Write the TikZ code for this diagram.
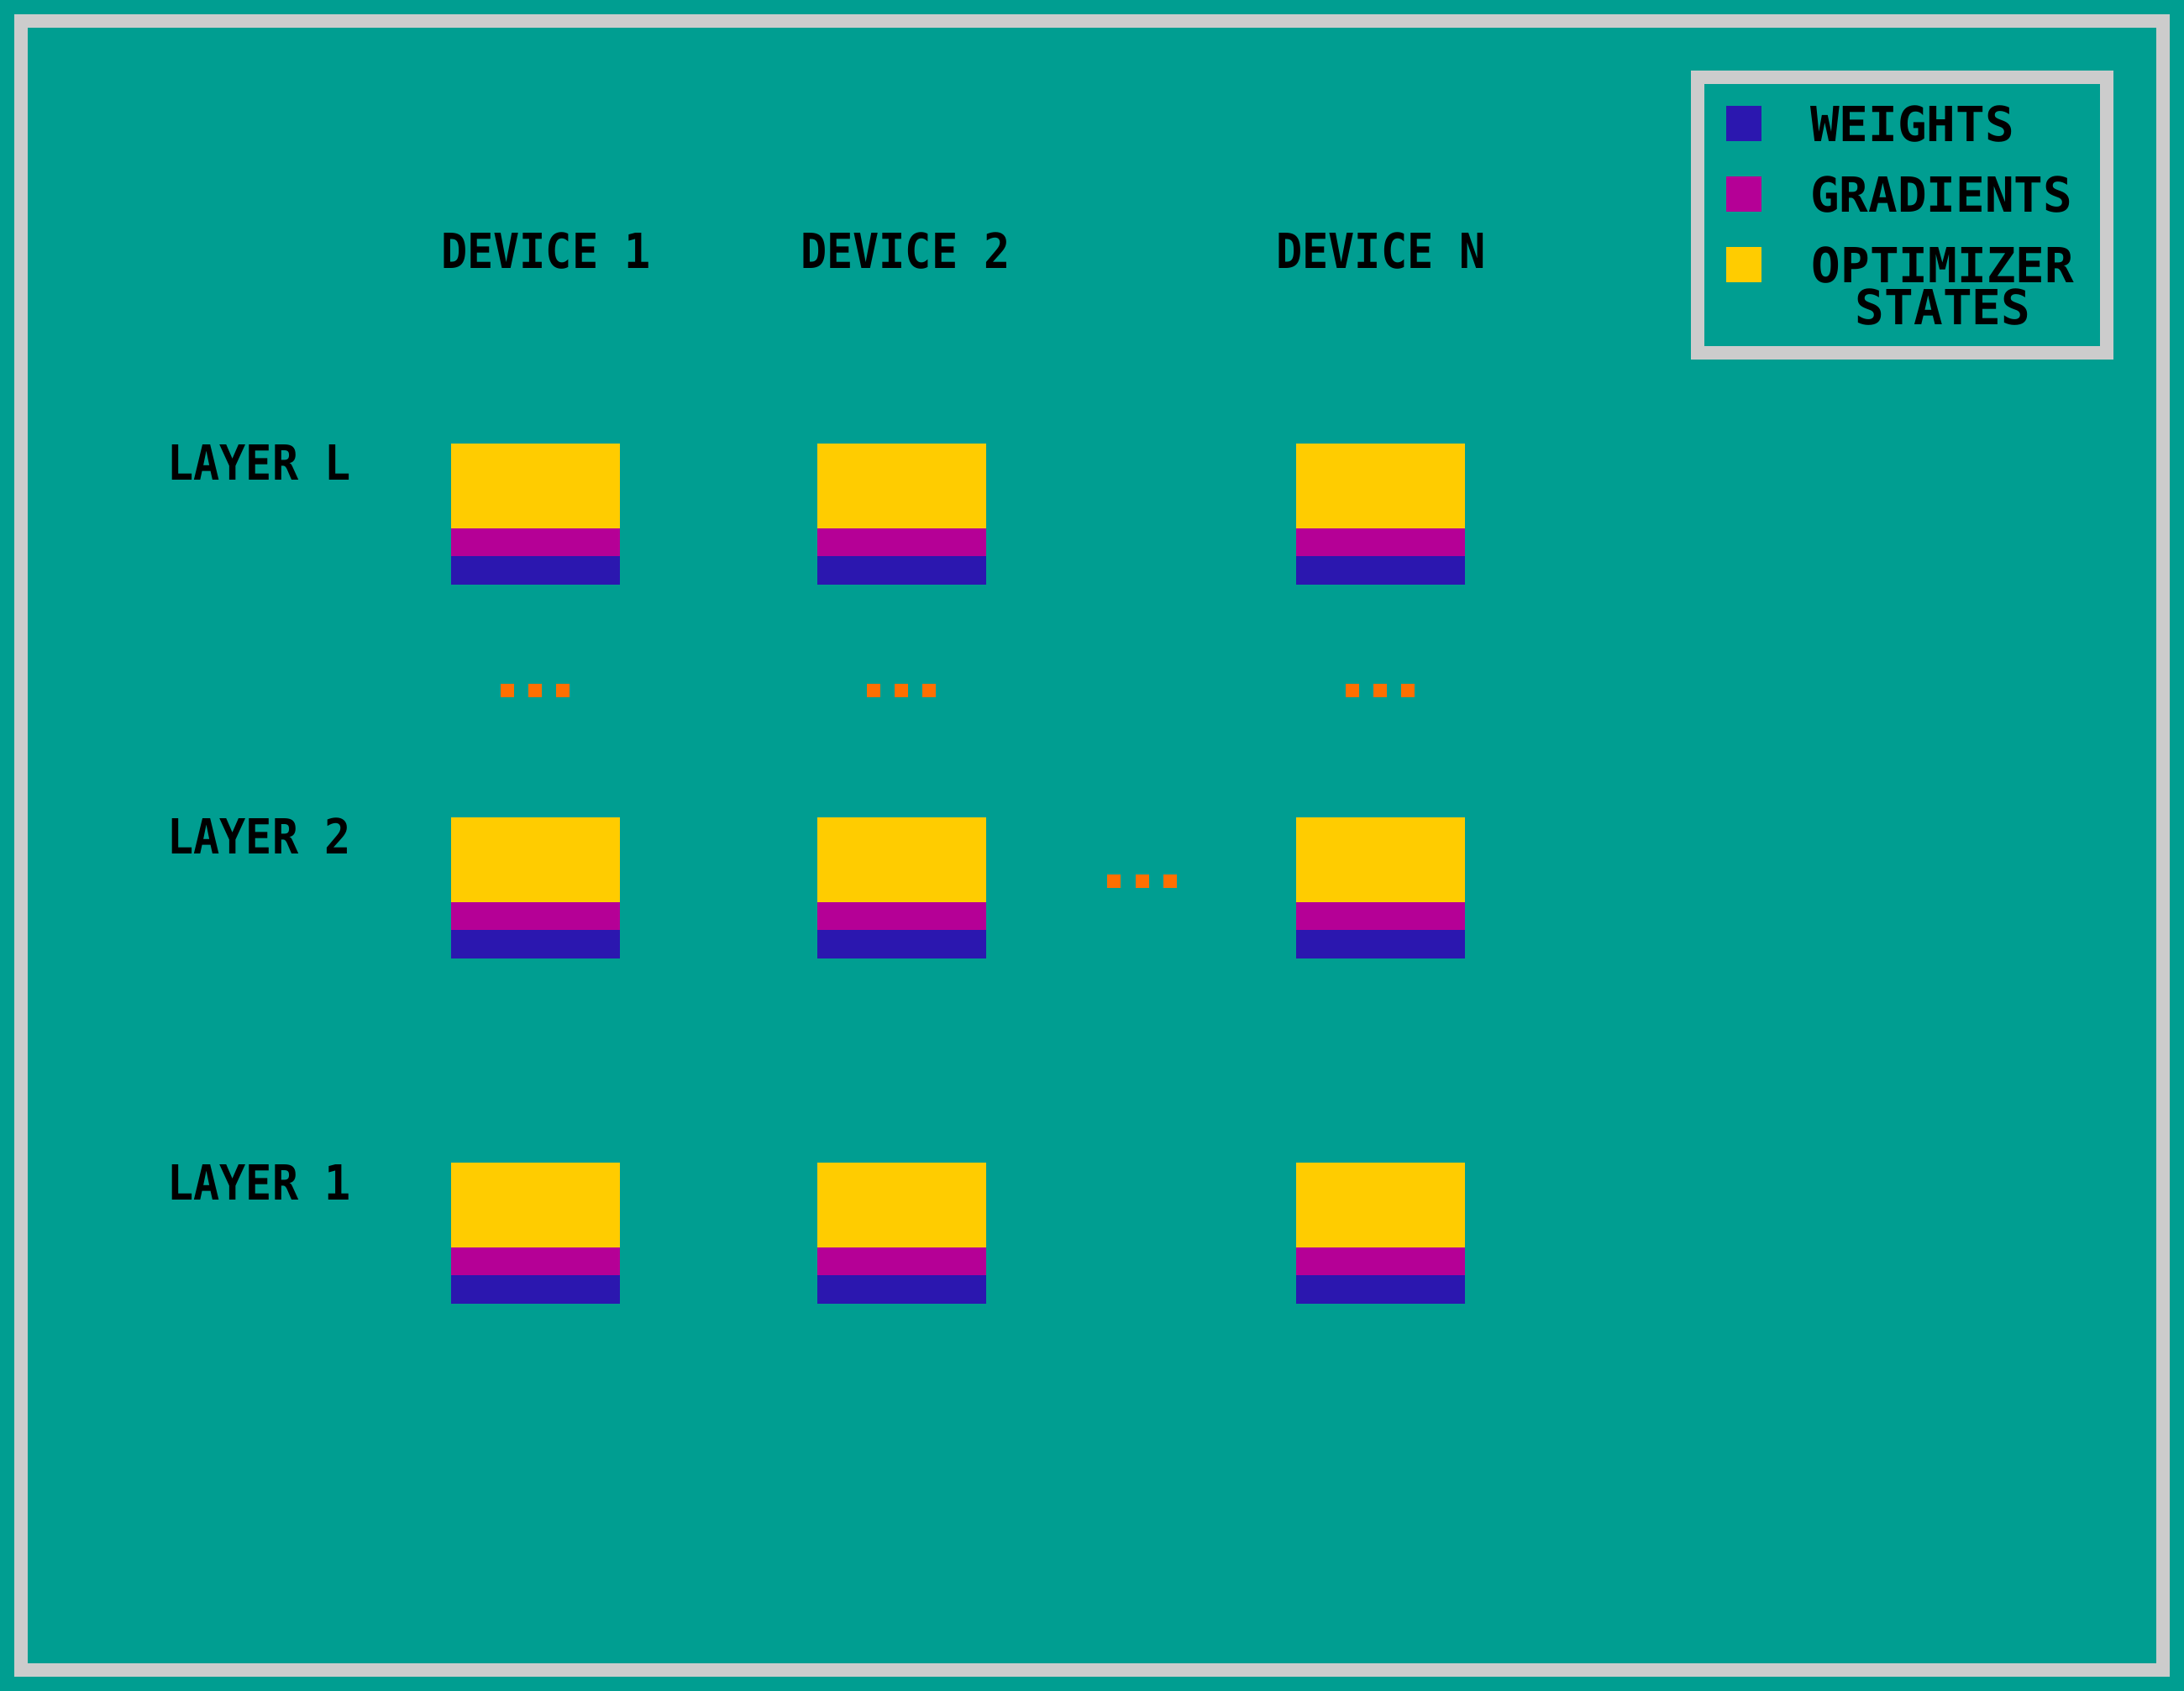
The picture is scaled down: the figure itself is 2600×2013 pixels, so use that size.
\documentclass[tikz,border=0pt]{standalone}
\usepackage{fontspec}
\newfontfamily\pixfont{DejaVu Sans Mono}[FakeStretch=0.9]
\newfontfamily\legfont{DejaVu Sans Mono}
\definecolor{bgteal}{RGB}{0,158,145}
\definecolor{framegray}{RGB}{204,204,204}
\definecolor{optyellow}{RGB}{255,204,0}
\definecolor{gradmag}{RGB}{181,0,150}
\definecolor{wblue}{RGB}{43,23,175}
\definecolor{dotorange}{RGB}{255,111,0}
\tikzset{
  lbl/.style={font=\pixfont\bfseries\fontsize{57.6}{50}\selectfont, text=black, inner sep=0pt},
  leglbl/.style={font=\legfont\bfseries\fontsize{57.6}{50}\selectfont, text=black, inner sep=0pt},
  optpart/.style={fill=optyellow, draw=none, minimum width=201pt, minimum height=101pt, inner sep=0pt, anchor=north west},
  gradpart/.style={fill=gradmag, draw=none, minimum width=201pt, minimum height=33pt, inner sep=0pt, anchor=north west},
  wpart/.style={fill=wblue, draw=none, minimum width=201pt, minimum height=34pt, inner sep=0pt, anchor=north west},
  dotsq/.style={fill=dotorange, draw=none, minimum size=16pt, inner sep=0pt},
  legsq/.style={draw=none, minimum width=42pt, minimum height=42pt, inner sep=0pt, anchor=north west},
}
\begin{document}
\begin{tikzpicture}[x=1pt,y=-1pt]
\fill[bgteal] (0,0) rectangle (2600,2013);
\useasboundingbox (0,0) rectangle (2600,2013);
% outer frame
\draw[framegray, line width=16pt] (25,25) rectangle (2575,1988);
% legend
\draw[framegray, line width=16pt] (2021,92) rectangle (2508,419.5);
\node[legsq, fill=wblue] (legW) at (2055,126) {};
\node[legsq, fill=gradmag] (legG) at (2055,210) {};
\node[legsq, fill=optyellow] (legO) at (2055,294) {};
\node[leglbl, anchor=base west] (legWt) at (2155,168) {WEIGHTS};
\node[leglbl, anchor=base west] (legGt) at (2155,252) {GRADIENTS};
\node[leglbl, anchor=base, align=center] (legOt) at (2313,386) {OPTIMIZER\\STATES};
% device labels
\node[lbl, anchor=base] (dev1) at (650,319) {DEVICE 1};
\node[lbl, anchor=base] (dev2) at (1078,319) {DEVICE 2};
\node[lbl, anchor=base] (devN) at (1644,319) {DEVICE N};
% layer labels
\node[lbl, anchor=base west] (layL) at (199,571) {LAYER L};
\node[lbl, anchor=base west] (lay2) at (199,1016) {LAYER 2};
\node[lbl, anchor=base west] (lay1) at (199,1428) {LAYER 1};
% blocks
\foreach \c/\x in {a/537, b/973, c/1543}{
  \foreach \r/\y in {L/528, M/973, F/1384}{
    \node[optpart] (opt\c\r) at (\x,\y) {};
    \node[gradpart] (grad\c\r) at (\x,\y+101) {};
    \node[wpart] (w\c\r) at (\x,\y+134) {};
  }
}
% vertical ellipses between layer L and layer 2
\foreach \c/\x in {a/604, b/1040, c/1610}{
  \node[dotsq] (vd\c1) at (\x,821.5) {};
  \node[dotsq] (vd\c2) at (\x+33,821.5) {};
  \node[dotsq] (vd\c3) at (\x+66,821.5) {};
}
% horizontal ellipsis between device 2 and device N
\node[dotsq] (hd1) at (1325.5,1048.5) {};
\node[dotsq] (hd2) at (1360,1048.5) {};
\node[dotsq] (hd3) at (1393,1048.5) {};
\end{tikzpicture}
\end{document}
